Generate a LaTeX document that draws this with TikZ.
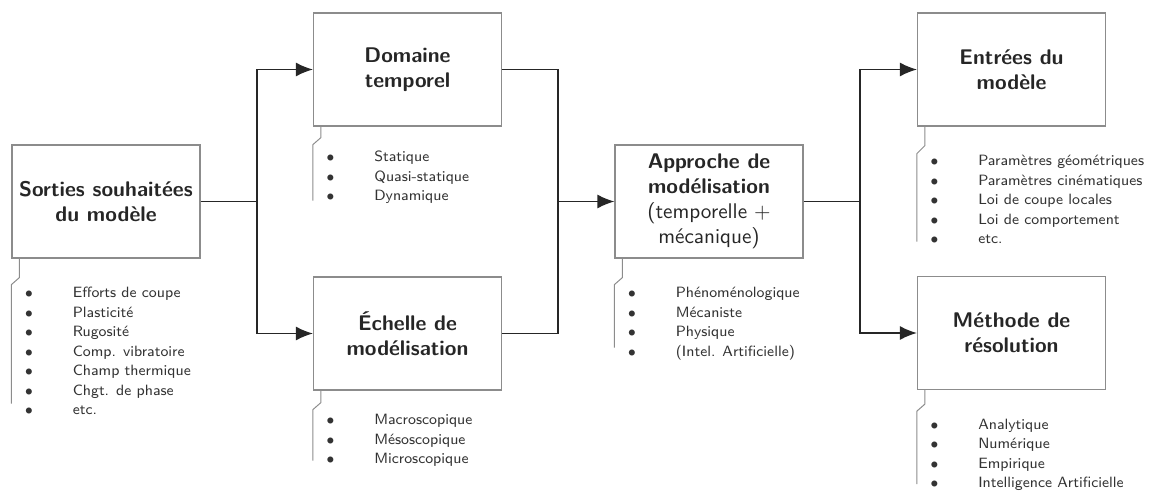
\documentclass[tikz,border=0pt]{standalone}
\usetikzlibrary{arrows.meta}
\tikzset{
  bloc/.style={draw=black!45, line width=0.6pt, minimum width=94pt, minimum height=56.5pt,
    align=center, text=black!85, font=\sffamily\fontsize{10.6}{12.5}\selectfont},
  liste/.style={anchor=base west, inner sep=0pt, text=black!80,
    font=\sffamily\fontsize{7.45}{9.75}\selectfont},
  lien/.style={line width=0.75pt, draw=black!85},
  fleche/.style={lien, -{Latex[length=8.5pt,width=7pt]}},
  accolade/.style={draw=black!45, line width=0.5pt},
}
\newcommand{\puce}{$\bullet$}
\newcommand{\puces}[1]{\begin{tabular}[t]{@{}p{24pt}@{}l@{}}#1\end{tabular}}

\begin{document}
\begin{tikzpicture}[x=0.5pt, y=-0.5pt]
  \useasboundingbox (0,0) rectangle (1151,492);

  % Boxes
  \node[bloc] (sorties) at (106,201.5) {\textbf{Sorties souhaitées}\\\textbf{du modèle}};
  \node[bloc] (domaine) at (407.5,69.5) {\textbf{Domaine}\\\textbf{temporel}};
  \node[bloc] (echelle) at (407.5,333.5) {\textbf{Échelle de}\\\textbf{modélisation}};
  \node[bloc] (approche) at (709,201.5) {\textbf{Approche de}\\\textbf{modélisation}\\(temporelle +\\mécanique)};
  \node[bloc] (entrees) at (1011.5,69.5) {\textbf{Entrées du}\\\textbf{modèle}};
  \node[bloc] (methode) at (1011.5,333) {\textbf{Méthode de}\\\textbf{résolution}};

  % Lists
  \node[liste] (lsorties) at ([xshift=6.5pt, yshift=-19.5pt]sorties.south west) {\puces{%
    \puce & Efforts de coupe\\ \puce & Plasticité\\ \puce & Rugosité\\
    \puce & Comp. vibratoire\\ \puce & Champ thermique\\ \puce & Chgt. de phase\\
    \puce & etc.}};
  \node[liste] (ldomaine) at ([xshift=6.5pt, yshift=-17.5pt]domaine.south west) {\puces{%
    \puce & Statique\\ \puce & Quasi-statique\\ \puce & Dynamique}};
  \node[liste] (lechelle) at ([xshift=6.5pt, yshift=-17pt]echelle.south west) {\puces{%
    \puce & Macroscopique\\ \puce & Mésoscopique\\ \puce & Microscopique}};
  \node[liste] (lapproche) at ([xshift=6.5pt, yshift=-19.5pt]approche.south west) {\puces{%
    \puce & Phénoménologique\\ \puce & Mécaniste\\ \puce & Physique\\
    \puce & (Intel. Artificielle)}};
  \node[liste] (lentrees) at ([xshift=6.5pt, yshift=-19.5pt]entrees.south west) {\puces{%
    \puce & Paramètres géométriques\\ \puce & Paramètres cinématiques\\
    \puce & Loi de coupe locales\\ \puce & Loi de comportement\\ \puce & etc.}};
  \node[liste] (lmethode) at ([xshift=6.5pt, yshift=-19.5pt]methode.south west) {\puces{%
    \puce & Analytique\\ \puce & Numérique\\ \puce & Empirique\\
    \puce & Intelligence Artificielle}};

  % List brackets
  \draw[accolade] ([xshift=4pt]sorties.south west) -- ++(0,-9.5pt) -- ++(-4pt,-3.5pt) -- ++(0,-59.5pt);
  \draw[accolade] ([xshift=4pt]domaine.south west) -- ++(0,-5.5pt) -- ++(-4pt,-3.5pt) -- ++(0,-28pt);
  \draw[accolade] ([xshift=4pt]echelle.south west) -- ++(0,-6pt) -- ++(-4pt,-3.5pt) -- ++(0,-25.5pt);
  \draw[accolade] ([xshift=4pt]approche.south west) -- ++(0,-9.5pt) -- ++(-4pt,-3.5pt) -- ++(0,-31.5pt);
  \draw[accolade] ([xshift=4pt]entrees.south west) -- ++(0,-9.5pt) -- ++(-4pt,-4pt) -- ++(0,-44pt);
  \draw[accolade] ([xshift=4pt]methode.south west) -- ++(0,-7pt) -- ++(-4pt,-3.5pt) -- ++(0,-36.5pt);

  % Connectors
  \coordinate (split1) at (257,201.5);
  \coordinate (merge) at (558,201.5);
  \coordinate (split2) at (860,201.5);
  \draw[lien] (sorties.east) -- (split1);
  \draw[fleche] (split1) |- (domaine.west);
  \draw[fleche] (split1) |- (echelle.west);
  \draw[lien] (domaine.east) -| (merge);
  \draw[lien] (echelle.east) -| (merge);
  \draw[fleche] (merge) -- (approche.west);
  \draw[lien] (approche.east) -- (split2);
  \draw[fleche] (split2) |- (entrees.west);
  \draw[fleche] (split2) |- (methode.west);
\end{tikzpicture}
\end{document}
